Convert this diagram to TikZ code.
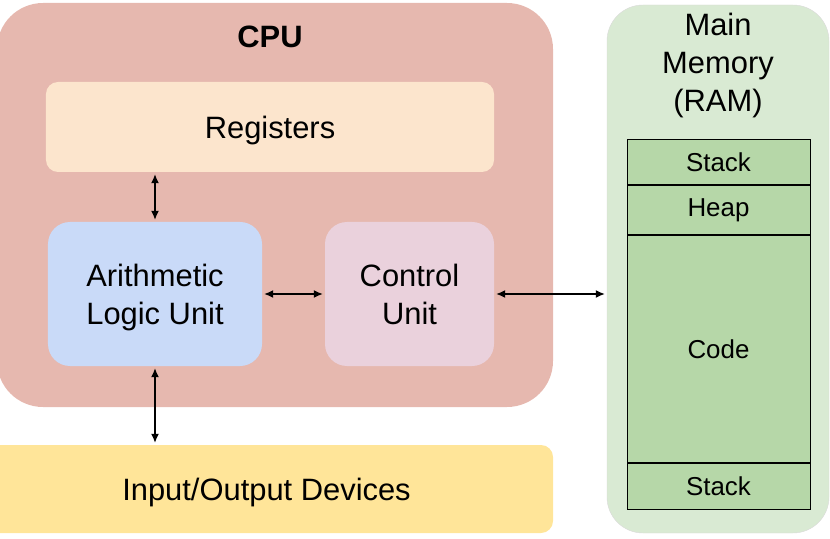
\documentclass[tikz,border=0pt]{standalone}
\usepackage{fontspec}
\setmainfont{Liberation Sans}
\usetikzlibrary{arrows.meta}
\usetikzlibrary{positioning}
\definecolor{cpupink}{HTML}{E6B8AF}
\definecolor{regcream}{HTML}{FCE5CD}
\definecolor{alublue}{HTML}{C9DAF8}
\definecolor{cumauve}{HTML}{EAD1DC}
\definecolor{ioyellow}{HTML}{FFE599}
\definecolor{memgreen}{HTML}{D9EAD3}
\definecolor{cellgreen}{HTML}{B6D7A8}
\tikzset{block/.style = {rectangle, inner sep = 0, align = center, text depth = 0pt,
                         font = \fontsize{31}{38}\selectfont}}
\tikzset{cell/.style = {rectangle, draw, line width = 1bp, fill = cellgreen,
                        minimum width = 183bp, inner sep = 0,
                        font = \fontsize{26}{30}\selectfont}}
\tikzset{link/.style = {{Latex[length=9bp, width=8bp]}-{Latex[length=9bp, width=8bp]},
                        line width = 1.3bp, shorten <= 2bp, shorten >= 2bp}}

\begin{document}
\begin{tikzpicture}[x=1bp, y=-1bp]
  \useasboundingbox (0, 0) rectangle (830, 539);

  \node [block, fill=cpupink, rounded corners=46bp, minimum width=556bp, minimum height=404bp] (cpu) at (275, 205) {};
  \node [block, font=\fontsize{31}{38}\selectfont\bfseries] (cputitle) at (270, 37) {CPU};

  \node [block, fill=regcream, rounded corners=12bp, minimum width=448bp, minimum height=90bp] (reg) at (270, 127) {Registers};
  \node [block, fill=alublue, rounded corners=22bp, minimum width=214bp, minimum height=144bp] (alu) at (155, 294) {Arithmetic\\Logic Unit};
  \node [block, fill=cumauve, rounded corners=22bp, minimum width=169bp, minimum height=144bp] (cu) at (409.5, 294) {Control\\Unit};

  \node [block, fill=ioyellow, rounded corners=12bp, minimum width=573bp, minimum height=88bp] (io) at (266.5, 489) {Input/Output Devices};

  \node [block, fill=memgreen, draw=black!15, rounded corners=36bp, minimum width=222bp, minimum height=528bp] (mem) at (718, 269) {};
  \node [block] (memtitle) at (718, 62) {Main\\Memory\\(RAM)};

  \node [cell, minimum height=45bp] (stacktop) at (718.5, 162.5) {Stack};
  \node [cell, minimum height=49bp, below=0pt of stacktop] (heap) {Heap};
  \node [cell, minimum height=226bp, below=0pt of heap] (code) {Code};
  \node [cell, minimum height=46bp, below=0pt of code] (stackbot) {Stack};

  \draw [link] (reg.south -| alu.north) -- (alu.north);
  \draw [link] (alu.east) -- (cu.west);
  \draw [link] (cu.east) -- (cu.east -| mem.west);
  \draw [link] (alu.south) -- (alu.south |- io.north);
\end{tikzpicture}
\end{document}
